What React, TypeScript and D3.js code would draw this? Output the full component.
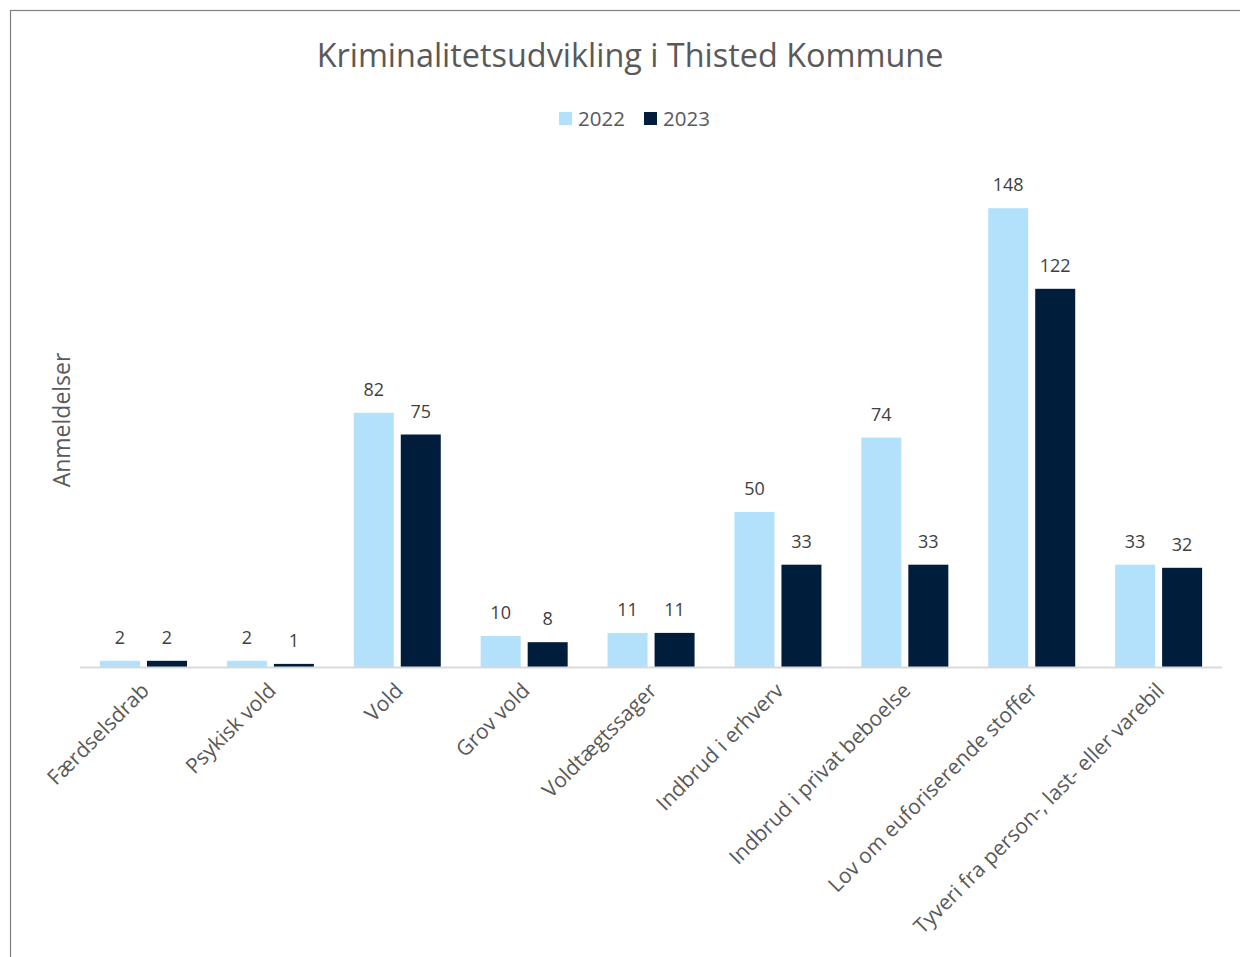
import React from "react";
import * as d3 from "d3";

const categories = [
  "Færdselsdrab",
  "Psykisk vold",
  "Vold",
  "Grov vold",
  "Voldtægtssager",
  "Indbrud i erhverv",
  "Indbrud i privat beboelse",
  "Lov om euforiserende stoffer",
  "Tyveri fra person-, last- eller varebil",
];
const seriesNames = ["2022", "2023"];
const values2022 = [2, 2, 82, 10, 11, 50, 74, 148, 33];
const values2023 = [2, 1, 75, 8, 11, 33, 33, 122, 32];
const seriesColors = ["#b3e0fb", "#001e3c"];

const W = 1240;
const H = 957;
const FONT = "'Open Sans', 'Noto Sans', sans-serif";

export default function App() {
  const x0 = d3.scaleBand<string>().domain(categories).range([80, 1222]).padding(0);
  const x1 = d3.scaleBand<string>().domain(seriesNames).range([20, 107]).paddingInner(0.149).paddingOuter(0);
  const y = d3.scaleLinear().domain([0, 160]).range([667, 171]);
  const seriesValues = [values2022, values2023];

  return (
    <svg width={W} height={H} style={{ position: "absolute", left: 0, top: 0, background: "#fff" }}>
      <rect x={10.5} y={10.5} width={W} height={H} fill="#fff" stroke="#7f7f7f" strokeWidth={1.2} />
      <text x={630} y={67} textAnchor="middle" fontFamily={FONT} fontSize={32.4} fill="#595959">
        Kriminalitetsudvikling i Thisted Kommune
      </text>
      {seriesNames.map((s, i) => {
        const lx = [559, 644][i];
        return (
          <g key={s}>
            <rect x={lx} y={112} width={13} height={13} fill={seriesColors[i]} />
            <text x={lx + 19} y={126} fontFamily={FONT} fontSize={20.5} fill="#595959">
              {s}
            </text>
          </g>
        );
      })}
      <text
        transform={`translate(70,420) rotate(-90)`}
        textAnchor="middle"
        fontFamily={FONT}
        fontSize={23}
        fill="#595959"
      >
        Anmeldelser
      </text>
      {categories.map((c, ci) => (
        <g key={c} transform={`translate(${x0(c)},0)`}>
          {seriesNames.map((s, si) => {
            const v = seriesValues[si][ci];
            const bx = x1(s)!;
            const bw = x1.bandwidth();
            return (
              <g key={s}>
                <rect x={bx} y={y(v)} width={bw} height={y(0) - y(v)} fill={seriesColors[si]} />
                <text
                  x={bx + bw / 2}
                  y={y(v) - 17}
                  textAnchor="middle"
                  fontFamily={FONT}
                  fontSize={18}
                  fill="#404040"
                >
                  {v}
                </text>
              </g>
            );
          })}
        </g>
      ))}
      <line x1={80} x2={1222} y1={667.5} y2={667.5} stroke="#d9d9d9" strokeWidth={2} />
      {categories.map((c) => {
        const cx = x0(c)! + x0.bandwidth() / 2 + 7;
        return (
          <text
            key={c}
            transform={`translate(${cx},692) rotate(-45)`}
            textAnchor="end"
            fontFamily={FONT}
            fontSize={21}
            fill="#595959"
          >
            {c}
          </text>
        );
      })}
    </svg>
  );
}
